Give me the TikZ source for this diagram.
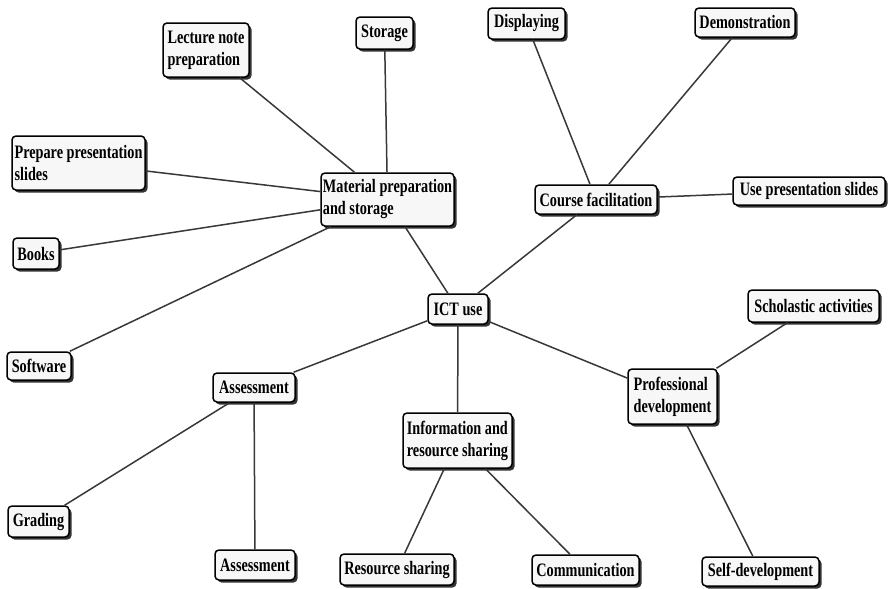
\documentclass[tikz,border=0pt]{standalone}
\usepackage{fontspec}
\setmainfont{Liberation Serif}[FakeStretch=0.75]
\usetikzlibrary{shadows}
\tikzset{
  box/.style={draw=black, line width=1.5pt, rounded corners=4pt, fill=white!97!black,
    align=left, inner sep=1.5pt, font=\fontsize{19}{22}\selectfont\bfseries,
    drop shadow={shadow xshift=2.5pt, shadow yshift=-2.5pt, fill=black!80, opacity=1}},
  link/.style={draw=black!78, line width=1.5pt}
}
\begin{document}
\begin{tikzpicture}[x=1pt,y=-1pt]
\useasboundingbox (0,0) rectangle (889,589);
\node[box, minimum width=86pt, minimum height=54pt] (lect) at (206,50) {Lecture note\\preparation};
\node[box, minimum width=57pt, minimum height=32pt] (stor) at (384.5,33) {Storage};
\node[box, minimum width=77pt, minimum height=31pt] (disp) at (526.5,23.5) {Displaying};
\node[box, minimum width=100pt, minimum height=29pt] (demo) at (745,22.5) {Demonstration};
\node[box, minimum width=133pt, minimum height=54pt] (prep) at (78.5,163) {Prepare presentation\\slides};
\node[box, minimum width=133pt, minimum height=53pt] (mat) at (387.5,199.5) {Material preparation\\and storage};
\node[box, minimum width=122pt, minimum height=29pt] (course) at (596,199.5) {Course facilitation};
\node[box, minimum width=152pt, minimum height=28pt] (use) at (809,191) {Use presentation slides};
\node[box, minimum width=46pt, minimum height=31pt] (books) at (36,253.5) {Books};
\node[box, minimum width=60pt, minimum height=30pt] (ict) at (458,309) {ICT use};
\node[box, minimum width=131pt, minimum height=32pt] (schol) at (813.5,306) {Scholastic activities};
\node[box, minimum width=64pt, minimum height=28pt] (soft) at (39,366) {Software};
\node[box, minimum width=82pt, minimum height=29pt] (asa) at (254,387.5) {Assessment};
\node[box, minimum width=89pt, minimum height=55pt] (prof) at (672.5,396.5) {Professional\\development};
\node[box, minimum width=109pt, minimum height=55pt] (info) at (457.5,440.5) {Information and\\resource sharing};
\node[box, minimum width=61pt, minimum height=31pt] (grad) at (38.5,521.5) {Grading};
\node[box, minimum width=80pt, minimum height=30pt] (asb) at (255,565) {Assessment};
\node[box, minimum width=114pt, minimum height=31pt] (rsh) at (397,569.5) {Resource sharing};
\node[box, minimum width=107pt, minimum height=30pt] (comm) at (585.5,570) {Communication};
\node[box, minimum width=117pt, minimum height=29pt] (self) at (760.5,571.5) {Self-development};

\draw[link] (lect) -- (mat);
\draw[link] (stor) -- (mat);
\draw[link] (prep) -- (mat);
\draw[link] (books) -- (mat);
\draw[link] (soft) -- (mat);
\draw[link] (mat) -- (ict);
\draw[link] (disp) -- (course);
\draw[link] (demo) -- (course);
\draw[link] (course) -- (use);
\draw[link] (ict) -- (course);
\draw[link] (ict) -- (asa);
\draw[link] (ict) -- (info);
\draw[link] (ict) -- (prof);
\draw[link] (prof) -- (schol);
\draw[link] (prof) -- (self);
\draw[link] (info) -- (rsh);
\draw[link] (info) -- (comm);
\draw[link] (asa) -- (grad);
\draw[link] (asa) -- (asb);
\end{tikzpicture}
\end{document}
